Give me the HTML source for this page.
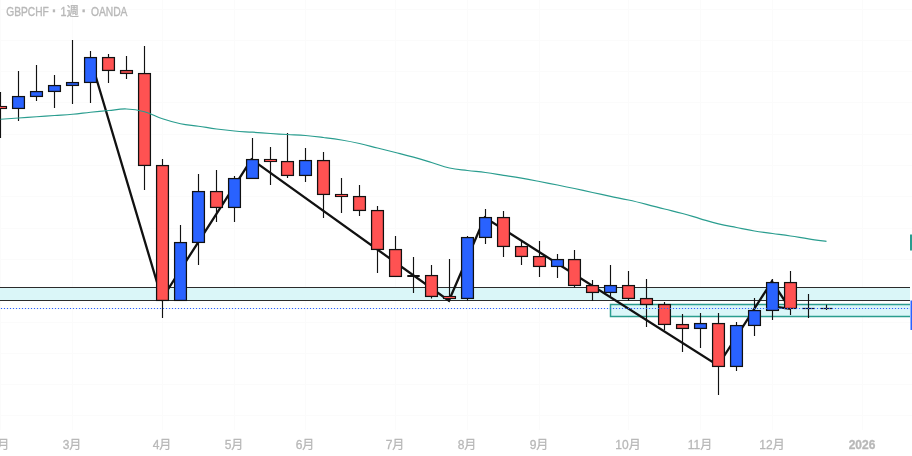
<!DOCTYPE html>
<html lang="ja"><head><meta charset="utf-8"><title>GBPCHF 1週 OANDA</title>
<style>html,body{margin:0;padding:0;background:#fff;overflow:hidden}svg{display:block;will-change:transform}text{font-family:"Liberation Sans","Noto Sans CJK JP",sans-serif}</style></head>
<body>
<svg width="912" height="456" viewBox="0 0 912 456">
<rect x="0" y="0" width="912" height="456" fill="#ffffff"/>
<path d="M0.5 0V430M72.5 0V430M162.5 0V430M234.5 0V430M305.5 0V430M395.5 0V430M467.5 0V430M539.5 0V430M628.5 0V430M700.5 0V430M772.5 0V430M862.5 0V430M0 9.5H912M0 40.5H912M0 71.5H912M0 102.5H912M0 134.5H912M0 165.5H912M0 196.5H912M0 228.5H912M0 259.5H912M0 290.5H912M0 322.5H912M0 353.5H912M0 384.5H912M0 415.5H912" stroke="#fbfbfb" stroke-width="1" fill="none"/>
<rect x="0" y="287.5" width="910" height="13" fill="#daf6f8"/><path d="M0 287.5H910M0 300.5H910" stroke="#2b2b2b" stroke-width="1.1" fill="none"/>
<rect x="610.5" y="304.5" width="302" height="12" fill="#daf6f8" stroke="#2a9d8f" stroke-width="1.5"/>
<rect x="910" y="280" width="2" height="40" fill="#fff"/>
<polyline points="90.1,57.5 161.9,298.8 251.5,159.3 448.9,300.8 484.8,217.5 718,365.5 771.9,281.3 789.9,308.5" fill="none" stroke="#111" stroke-width="2.3" stroke-linejoin="miter" stroke-miterlimit="10"/>
<line x1="772.5" y1="306.3" x2="791" y2="308.8" stroke="#111" stroke-width="2.3"/>
<path d="M0.5 92V138" stroke="#111" stroke-width="1.15"/>
<rect x="-6.05" y="105.95" width="13.1" height="3.10" fill="#111"/><rect x="-4.8" y="106.95" width="10.6" height="1.10" fill="#ff5252"/>
<path d="M18.5 71V121" stroke="#111" stroke-width="1.15"/>
<rect x="11.95" y="95.95" width="13.1" height="13.10" fill="#111"/><rect x="13.2" y="97.2" width="10.6" height="10.60" fill="#2962ff"/>
<path d="M36.5 65V101" stroke="#111" stroke-width="1.15"/>
<rect x="29.95" y="90.95" width="13.1" height="6.10" fill="#111"/><rect x="31.2" y="92.2" width="10.6" height="3.60" fill="#2962ff"/>
<path d="M54.5 75V108" stroke="#111" stroke-width="1.15"/>
<rect x="47.95" y="84.95" width="13.1" height="7.10" fill="#111"/><rect x="49.2" y="86.2" width="10.6" height="4.60" fill="#2962ff"/>
<path d="M72.5 40V104" stroke="#111" stroke-width="1.15"/>
<rect x="65.95" y="81.95" width="13.1" height="4.10" fill="#111"/><rect x="67.2" y="83.2" width="10.6" height="1.60" fill="#2962ff"/>
<path d="M90.5 51V103" stroke="#111" stroke-width="1.15"/>
<rect x="83.95" y="56.95" width="13.1" height="26.10" fill="#111"/><rect x="85.2" y="58.2" width="10.6" height="23.60" fill="#2962ff"/>
<path d="M108.5 54V83" stroke="#111" stroke-width="1.15"/>
<rect x="101.95" y="56.95" width="13.1" height="14.10" fill="#111"/><rect x="103.2" y="58.2" width="10.6" height="11.60" fill="#ff5252"/>
<path d="M126.5 56V79" stroke="#111" stroke-width="1.15"/>
<rect x="119.95" y="69.95" width="13.1" height="4.10" fill="#111"/><rect x="121.2" y="71.2" width="10.6" height="1.60" fill="#ff5252"/>
<path d="M144.5 46V190" stroke="#111" stroke-width="1.15"/>
<rect x="137.95" y="72.95" width="13.1" height="93.10" fill="#111"/><rect x="139.2" y="74.2" width="10.6" height="90.60" fill="#ff5252"/>
<path d="M162.5 159V318" stroke="#111" stroke-width="1.15"/>
<rect x="155.95" y="164.95" width="13.1" height="136.10" fill="#111"/><rect x="157.2" y="166.2" width="10.6" height="133.60" fill="#ff5252"/>
<path d="M180.5 225V301" stroke="#111" stroke-width="1.15"/>
<rect x="173.95" y="241.95" width="13.1" height="59.10" fill="#111"/><rect x="175.2" y="243.2" width="10.6" height="56.60" fill="#2962ff"/>
<path d="M198.5 174V265" stroke="#111" stroke-width="1.15"/>
<rect x="191.95" y="190.95" width="13.1" height="52.10" fill="#111"/><rect x="193.2" y="192.2" width="10.6" height="49.60" fill="#2962ff"/>
<path d="M216.5 170V222" stroke="#111" stroke-width="1.15"/>
<rect x="209.95" y="190.95" width="13.1" height="17.10" fill="#111"/><rect x="211.2" y="192.2" width="10.6" height="14.60" fill="#ff5252"/>
<path d="M234.5 176V222" stroke="#111" stroke-width="1.15"/>
<rect x="227.95" y="177.95" width="13.1" height="30.10" fill="#111"/><rect x="229.2" y="179.2" width="10.6" height="27.60" fill="#2962ff"/>
<path d="M252.5 138V179" stroke="#111" stroke-width="1.15"/>
<rect x="245.95" y="158.95" width="13.1" height="20.10" fill="#111"/><rect x="247.2" y="160.2" width="10.6" height="17.60" fill="#2962ff"/>
<path d="M270.5 147V185" stroke="#111" stroke-width="1.15"/>
<rect x="263.95" y="158.95" width="13.1" height="3.10" fill="#111"/><rect x="265.2" y="159.95" width="10.6" height="1.10" fill="#ff5252"/>
<path d="M287.5 133V178" stroke="#111" stroke-width="1.15"/>
<rect x="280.95" y="160.95" width="13.1" height="15.10" fill="#111"/><rect x="282.2" y="162.2" width="10.6" height="12.60" fill="#ff5252"/>
<path d="M305.5 148V182" stroke="#111" stroke-width="1.15"/>
<rect x="298.95" y="159.95" width="13.1" height="16.10" fill="#111"/><rect x="300.2" y="161.2" width="10.6" height="13.60" fill="#2962ff"/>
<path d="M323.5 152V218" stroke="#111" stroke-width="1.15"/>
<rect x="316.95" y="159.95" width="13.1" height="35.10" fill="#111"/><rect x="318.2" y="161.2" width="10.6" height="32.60" fill="#ff5252"/>
<path d="M341.5 178V213" stroke="#111" stroke-width="1.15"/>
<rect x="334.95" y="193.95" width="13.1" height="3.10" fill="#111"/><rect x="336.2" y="194.95" width="10.6" height="1.10" fill="#ff5252"/>
<path d="M359.5 185V216" stroke="#111" stroke-width="1.15"/>
<rect x="352.95" y="195.95" width="13.1" height="15.10" fill="#111"/><rect x="354.2" y="197.2" width="10.6" height="12.60" fill="#ff5252"/>
<path d="M377.5 206V273" stroke="#111" stroke-width="1.15"/>
<rect x="370.95" y="209.95" width="13.1" height="40.10" fill="#111"/><rect x="372.2" y="211.2" width="10.6" height="37.60" fill="#ff5252"/>
<path d="M395.5 236V277" stroke="#111" stroke-width="1.15"/>
<rect x="388.95" y="248.95" width="13.1" height="28.10" fill="#111"/><rect x="390.2" y="250.2" width="10.6" height="25.60" fill="#ff5252"/>
<path d="M413.5 257V293" stroke="#111" stroke-width="1.15"/>
<path d="M407.3 276.0H419.7" stroke="#111" stroke-width="2"/>
<path d="M431.5 265V298.5" stroke="#111" stroke-width="1.15"/>
<rect x="424.95" y="274.95" width="13.1" height="22.10" fill="#111"/><rect x="426.2" y="276.2" width="10.6" height="19.60" fill="#ff5252"/>
<path d="M449.5 259V301.5" stroke="#111" stroke-width="1.15"/>
<rect x="442.95" y="295.95" width="13.1" height="3.10" fill="#111"/><rect x="444.2" y="296.95" width="10.6" height="1.10" fill="#ff5252"/>
<path d="M467.5 236V300.5" stroke="#111" stroke-width="1.15"/>
<rect x="460.95" y="236.95" width="13.1" height="62.10" fill="#111"/><rect x="462.2" y="238.2" width="10.6" height="59.60" fill="#2962ff"/>
<path d="M485.5 209V244" stroke="#111" stroke-width="1.15"/>
<rect x="478.95" y="216.95" width="13.1" height="21.10" fill="#111"/><rect x="480.2" y="218.2" width="10.6" height="18.60" fill="#2962ff"/>
<path d="M503.5 211V257" stroke="#111" stroke-width="1.15"/>
<rect x="496.95" y="216.95" width="13.1" height="30.10" fill="#111"/><rect x="498.2" y="218.2" width="10.6" height="27.60" fill="#ff5252"/>
<path d="M521.5 241V265" stroke="#111" stroke-width="1.15"/>
<rect x="514.95" y="245.95" width="13.1" height="11.10" fill="#111"/><rect x="516.2" y="247.2" width="10.6" height="8.60" fill="#ff5252"/>
<path d="M539.5 241V277" stroke="#111" stroke-width="1.15"/>
<rect x="532.95" y="255.95" width="13.1" height="11.10" fill="#111"/><rect x="534.2" y="257.2" width="10.6" height="8.60" fill="#ff5252"/>
<path d="M557.5 254V278" stroke="#111" stroke-width="1.15"/>
<rect x="550.95" y="258.95" width="13.1" height="8.10" fill="#111"/><rect x="552.2" y="260.2" width="10.6" height="5.60" fill="#2962ff"/>
<path d="M574.5 250V287.5" stroke="#111" stroke-width="1.15"/>
<rect x="567.95" y="258.95" width="13.1" height="27.10" fill="#111"/><rect x="569.2" y="260.2" width="10.6" height="24.60" fill="#ff5252"/>
<path d="M592.5 280V301" stroke="#111" stroke-width="1.15"/>
<rect x="585.95" y="284.95" width="13.1" height="8.10" fill="#111"/><rect x="587.2" y="286.2" width="10.6" height="5.60" fill="#ff5252"/>
<path d="M610.5 265V296" stroke="#111" stroke-width="1.15"/>
<rect x="603.95" y="284.95" width="13.1" height="8.10" fill="#111"/><rect x="605.2" y="286.2" width="10.6" height="5.60" fill="#2962ff"/>
<path d="M628.5 271V301" stroke="#111" stroke-width="1.15"/>
<rect x="621.95" y="284.95" width="13.1" height="14.10" fill="#111"/><rect x="623.2" y="286.2" width="10.6" height="11.60" fill="#ff5252"/>
<path d="M646.5 279V327" stroke="#111" stroke-width="1.15"/>
<rect x="639.95" y="297.95" width="13.1" height="7.10" fill="#111"/><rect x="641.2" y="299.2" width="10.6" height="4.60" fill="#ff5252"/>
<path d="M664.5 302V330" stroke="#111" stroke-width="1.15"/>
<rect x="657.95" y="303.95" width="13.1" height="21.10" fill="#111"/><rect x="659.2" y="305.2" width="10.6" height="18.60" fill="#ff5252"/>
<path d="M682.5 314V352" stroke="#111" stroke-width="1.15"/>
<rect x="675.95" y="323.95" width="13.1" height="5.10" fill="#111"/><rect x="677.2" y="325.2" width="10.6" height="2.60" fill="#ff5252"/>
<path d="M700.5 313V348" stroke="#111" stroke-width="1.15"/>
<rect x="693.95" y="322.95" width="13.1" height="6.10" fill="#111"/><rect x="695.2" y="324.2" width="10.6" height="3.60" fill="#2962ff"/>
<path d="M718.5 313V395" stroke="#111" stroke-width="1.15"/>
<rect x="711.95" y="322.95" width="13.1" height="44.10" fill="#111"/><rect x="713.2" y="324.2" width="10.6" height="41.60" fill="#ff5252"/>
<path d="M736.5 322V371" stroke="#111" stroke-width="1.15"/>
<rect x="729.95" y="324.95" width="13.1" height="42.10" fill="#111"/><rect x="731.2" y="326.2" width="10.6" height="39.60" fill="#2962ff"/>
<path d="M754.5 298V336" stroke="#111" stroke-width="1.15"/>
<rect x="747.95" y="309.95" width="13.1" height="16.10" fill="#111"/><rect x="749.2" y="311.2" width="10.6" height="13.60" fill="#2962ff"/>
<path d="M772.5 279V320" stroke="#111" stroke-width="1.15"/>
<rect x="765.95" y="281.95" width="13.1" height="29.10" fill="#111"/><rect x="767.2" y="283.2" width="10.6" height="26.60" fill="#2962ff"/>
<path d="M790.5 271V315" stroke="#111" stroke-width="1.15"/>
<rect x="783.95" y="281.95" width="13.1" height="27.10" fill="#111"/><rect x="785.2" y="283.2" width="10.6" height="24.60" fill="#ff5252"/>
<path d="M808.5 294V318" stroke="#111" stroke-width="1.15"/>
<path d="M802.3 308.5H814.7" stroke="#111" stroke-width="1.2"/>
<path d="M826.5 304.7V310" stroke="#111" stroke-width="1.15"/>
<path d="M820.6 308.5H832.4" stroke="#111" stroke-width="1.2"/>
<path d="M0.9 308.5H910" stroke="#2962ff" stroke-width="1.15" stroke-dasharray="1.2 1.8" fill="none"/>
<path d="M0.5 119.25C4.10 119.00 11.30 118.50 18.5 118C25.70 117.50 29.30 117.25 36.5 116.75C43.70 116.25 47.30 116.00 54.5 115.5C61.70 115.00 65.30 114.90 72.5 114.25C79.70 113.60 83.30 113.00 90.5 112.25C97.70 111.50 101.30 111.15 108.5 110.5C115.70 109.85 119.30 108.75 126.5 109C133.70 109.25 137.30 109.80 144.5 111.75C151.70 113.70 155.30 116.35 162.5 118.75C169.70 121.15 173.30 122.25 180.5 123.75C187.70 125.25 191.30 125.20 198.5 126.25C205.70 127.30 209.30 128.05 216.5 129C223.70 129.95 227.30 130.36 234.5 131C241.70 131.64 245.30 131.70 252.5 132.2C259.70 132.70 263.50 133.04 270.5 133.5C277.50 133.96 280.50 134.10 287.5 134.5C294.50 134.90 298.30 134.90 305.5 135.5C312.70 136.10 316.30 136.60 323.5 137.5C330.70 138.40 334.30 138.80 341.5 140C348.70 141.20 352.30 141.90 359.5 143.5C366.70 145.10 370.30 146.20 377.5 148C384.70 149.80 388.30 150.66 395.5 152.5C402.70 154.34 406.30 155.20 413.5 157.2C420.70 159.20 424.30 160.34 431.5 162.5C438.70 164.66 442.30 166.40 449.5 168C456.70 169.60 460.30 169.60 467.5 170.5C474.70 171.40 478.30 171.54 485.5 172.5C492.70 173.46 496.30 174.16 503.5 175.3C510.70 176.44 514.30 176.96 521.5 178.2C528.70 179.44 532.30 180.14 539.5 181.5C546.70 182.86 550.50 183.60 557.5 185C564.50 186.40 567.50 187.00 574.5 188.5C581.50 190.00 585.30 190.94 592.5 192.5C599.70 194.06 603.30 194.80 610.5 196.3C617.70 197.80 621.30 198.40 628.5 200C635.70 201.60 639.30 202.50 646.5 204.3C653.70 206.10 657.30 207.16 664.5 209C671.70 210.84 675.30 211.54 682.5 213.5C689.70 215.46 693.30 216.74 700.5 218.8C707.70 220.86 711.30 222.06 718.5 223.8C725.70 225.54 729.30 226.06 736.5 227.5C743.70 228.94 747.30 229.80 754.5 231C761.70 232.20 765.30 232.50 772.5 233.5C779.70 234.50 783.30 234.94 790.5 236C797.70 237.06 801.30 237.74 808.5 238.8C815.70 239.86 822.90 240.80 826.5 241.3" fill="none" stroke="#2a9d8f" stroke-width="1.25" stroke-linejoin="round"/>
<rect x="910" y="234.5" width="4" height="16" fill="#2a9d8f"/>
<rect x="910.5" y="300.5" width="4" height="29.5" fill="#2962ff"/>
<text x="6.2" y="15.8" fill="#b8b8b8" stroke="#b8b8b8" stroke-width="0.35" font-size="12" textLength="42.6" lengthAdjust="spacingAndGlyphs">GBPCHF</text>
<text x="51.9" y="16.3" fill="#b8b8b8" stroke="#b8b8b8" stroke-width="0.35" font-size="12" font-weight="bold" style="font-size:14px">·</text>
<text x="60.4" y="15.8" fill="#b8b8b8" stroke="#b8b8b8" stroke-width="0.35" font-size="12" textLength="6" lengthAdjust="spacingAndGlyphs">1</text>
<text x="66.8" y="15.8" fill="#b8b8b8" stroke="#b8b8b8" stroke-width="0.35" font-size="12">週</text>
<text x="81.8" y="16.3" fill="#b8b8b8" stroke="#b8b8b8" stroke-width="0.35" font-size="12" font-weight="bold" style="font-size:14px">·</text>
<text x="90.9" y="15.8" fill="#b8b8b8" stroke="#b8b8b8" stroke-width="0.35" font-size="12" textLength="36.6" lengthAdjust="spacingAndGlyphs">OANDA</text>
<text x="0.0" y="449" fill="#b8b8b8" stroke="#b8b8b8" stroke-width="0.3" font-size="12" text-anchor="middle">2月</text>
<text x="72.0" y="449" fill="#b8b8b8" stroke="#b8b8b8" stroke-width="0.3" font-size="12" text-anchor="middle">3月</text>
<text x="162.0" y="449" fill="#b8b8b8" stroke="#b8b8b8" stroke-width="0.3" font-size="12" text-anchor="middle">4月</text>
<text x="234.0" y="449" fill="#b8b8b8" stroke="#b8b8b8" stroke-width="0.3" font-size="12" text-anchor="middle">5月</text>
<text x="305.0" y="449" fill="#b8b8b8" stroke="#b8b8b8" stroke-width="0.3" font-size="12" text-anchor="middle">6月</text>
<text x="395.0" y="449" fill="#b8b8b8" stroke="#b8b8b8" stroke-width="0.3" font-size="12" text-anchor="middle">7月</text>
<text x="467.0" y="449" fill="#b8b8b8" stroke="#b8b8b8" stroke-width="0.3" font-size="12" text-anchor="middle">8月</text>
<text x="539.0" y="449" fill="#b8b8b8" stroke="#b8b8b8" stroke-width="0.3" font-size="12" text-anchor="middle">9月</text>
<text x="628.0" y="449" fill="#b8b8b8" stroke="#b8b8b8" stroke-width="0.3" font-size="12" text-anchor="middle">10月</text>
<text x="700.0" y="449" fill="#b8b8b8" stroke="#b8b8b8" stroke-width="0.3" font-size="12" text-anchor="middle">11月</text>
<text x="772.0" y="449" fill="#b8b8b8" stroke="#b8b8b8" stroke-width="0.3" font-size="12" text-anchor="middle">12月</text>
<text x="862" y="449" fill="#b8b8b8" stroke="#b8b8b8" stroke-width="0.3" font-size="12" text-anchor="middle" font-weight="bold">2026</text>
</svg>
</body></html>
